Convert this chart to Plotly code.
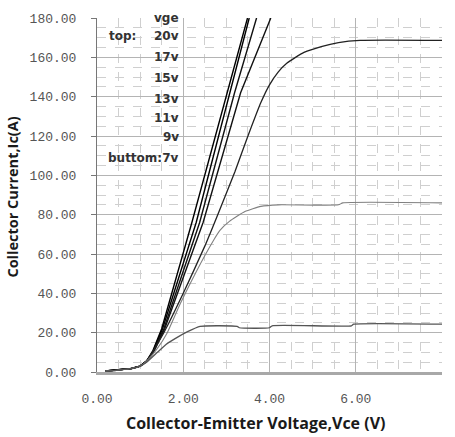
import plotly.graph_objects as go

# IGBT output characteristics: collector current vs collector-emitter voltage
vge_labels = ["20v", "17v", "15v", "13v", "11v", "9v", "7v"]

vce_20 = [0.2, 0.5, 0.8, 1.0, 1.15, 1.3, 1.5, 2.2, 3.02, 3.49]
ic_20 = [0.5, 1.0, 1.8, 3.0, 5.5, 11, 22, 76, 142, 180]

vce_17 = [0.2, 0.5, 0.8, 1.0, 1.15, 1.3, 1.52, 2.3, 3.09, 3.53]
ic_17 = [0.5, 1.0, 1.8, 3.0, 5.5, 10.5, 22, 76, 142, 180]

vce_15 = [0.2, 0.5, 0.8, 1.0, 1.15, 1.3, 1.55, 2.38, 3.19, 3.70]
ic_15 = [0.5, 1.0, 1.8, 3.0, 5.5, 10, 22, 76, 142, 180]

vce_13 = [0.2, 0.5, 0.8, 1.0, 1.15, 1.3, 1.57, 2.46, 3.33, 4.03]
ic_13 = [0.5, 1.0, 1.8, 3.0, 5.5, 9.5, 22, 76, 142, 180]

vce_11 = [0.2, 0.5, 0.8, 1.0, 1.15, 1.55, 2.0, 2.5, 2.8, 3.2, 3.5, 3.8,
          4.0, 4.2, 4.4, 4.8, 5.2, 5.6, 6.1, 8.0]
ic_11 = [0.5, 1.0, 1.8, 3.0, 5.5, 20, 40, 64, 80, 102, 120, 137,
         146, 152.5, 157, 162.5, 165.5, 167.5, 168.6, 168.6]

vce_9 = [0.2, 0.5, 0.8, 1.0, 1.15, 1.4, 1.62, 1.93, 2.31, 2.69, 2.85, 3.07,
         3.43, 3.8, 4.2, 5.6, 5.7, 8.0]
ic_9 = [0.5, 1.0, 1.8, 3.0, 5.5, 12, 19.6, 34.7, 51.4, 66.5, 72, 76.6,
        81.6, 84.2, 85, 85, 86, 86]

vce_7 = [0.2, 0.5, 0.8, 1.0, 1.15, 1.4, 1.6, 1.86, 2.1, 2.39, 3.25, 3.3,
         4.0, 4.06, 5.9, 5.95, 8.0]
ic_7 = [0.5, 1.0, 1.8, 3.0, 5.0, 10, 14, 17.6, 20.5, 23.2, 23.2, 22.5,
        22.5, 23.5, 23.5, 24.3, 24.3]

series = [
    (vce_20, ic_20, "#000000", 1.4, "linear"),
    (vce_17, ic_17, "#000000", 1.4, "linear"),
    (vce_15, ic_15, "#111111", 1.4, "linear"),
    (vce_13, ic_13, "#111111", 1.4, "linear"),
    (vce_11, ic_11, "#222222", 1.3, "spline"),
    (vce_9, ic_9, "#808080", 1.1, "spline"),
    (vce_7, ic_7, "#555555", 1.3, "spline"),
]

fig = go.Figure()
for (xs, ys, col, w, shape), name in zip(series, vge_labels):
    line = dict(color=col, width=w, shape=shape)
    if shape == "spline":
        line["smoothing"] = 0.5
    fig.add_trace(go.Scatter(
        x=xs, y=ys, mode="lines", name=name, line=line,
        hoverinfo="skip", showlegend=False,
    ))

# Vge key drawn inside the plot area
key_text = ["vge", "20v", "17v", "15v", "13v", "11v", "9v", "buttom:7v"]
key_y = [179.8, 170.8, 160.2, 149.6, 139.0, 129.0, 119.4, 108.8]
key_font = dict(family="DejaVu Sans", size=12, color="#333333", weight="bold")
for t, yv in zip(key_text, key_y):
    fig.add_annotation(x=1.95, y=yv, xref="x", yref="y", text=t,
                       showarrow=False, xanchor="right", yanchor="middle",
                       font=key_font)
fig.add_annotation(x=0.23, y=170.8, xref="x", yref="y", text="top:",
                   showarrow=False, xanchor="left", yanchor="middle",
                   font=key_font)

fig.add_annotation(x=0.458, y=-0.143, xref="paper", yref="paper",
                   text="Collector-Emitter Voltage,Vce (V)", showarrow=False,
                   xanchor="center", yanchor="middle",
                   font=dict(family="Open Sans", size=16, color="#1a1a1a",
                             weight="bold"))
fig.add_annotation(x=-0.245, y=0.494, xref="paper", yref="paper",
                   text="Collector Current,Ic(A)", showarrow=False, textangle=-90,
                   xanchor="center", yanchor="middle",
                   font=dict(family="Open Sans", size=14.5, color="#1a1a1a",
                             weight="bold"))

tick_font = dict(family="Liberation Mono", size=13, color="#555555")

fig.update_layout(
    width=455, height=437,
    margin=dict(l=97, r=13, t=15, b=65),
    paper_bgcolor="white", plot_bgcolor="white",
    xaxis=dict(
        range=[0, 8], dtick=2, tick0=0, tickformat=".2f",
        showgrid=True, gridcolor="#b4b4b4", gridwidth=1,
        minor=dict(dtick=0.5, showgrid=True, gridcolor="#cfcfcf",
                   griddash="dash", gridwidth=1),
        showline=True, linecolor="#a8a8a8", linewidth=3,
        ticks="", zeroline=False, tickfont=tick_font,
        ticklabelstandoff=12,
    ),
    yaxis=dict(
        range=[0, 180], dtick=20, tick0=0, tickformat=".2f",
        showgrid=True, gridcolor="#b4b4b4", gridwidth=1,
        minor=dict(dtick=5, showgrid=True, gridcolor="#cfcfcf",
                   griddash="dash", gridwidth=1),
        showline=True, linecolor="#777777", linewidth=1,
        ticks="outside", ticklen=5, tickcolor="#777777",
        zeroline=False, tickfont=tick_font, ticklabelstandoff=12,
    ),
)

fig.write_html("out.html")
